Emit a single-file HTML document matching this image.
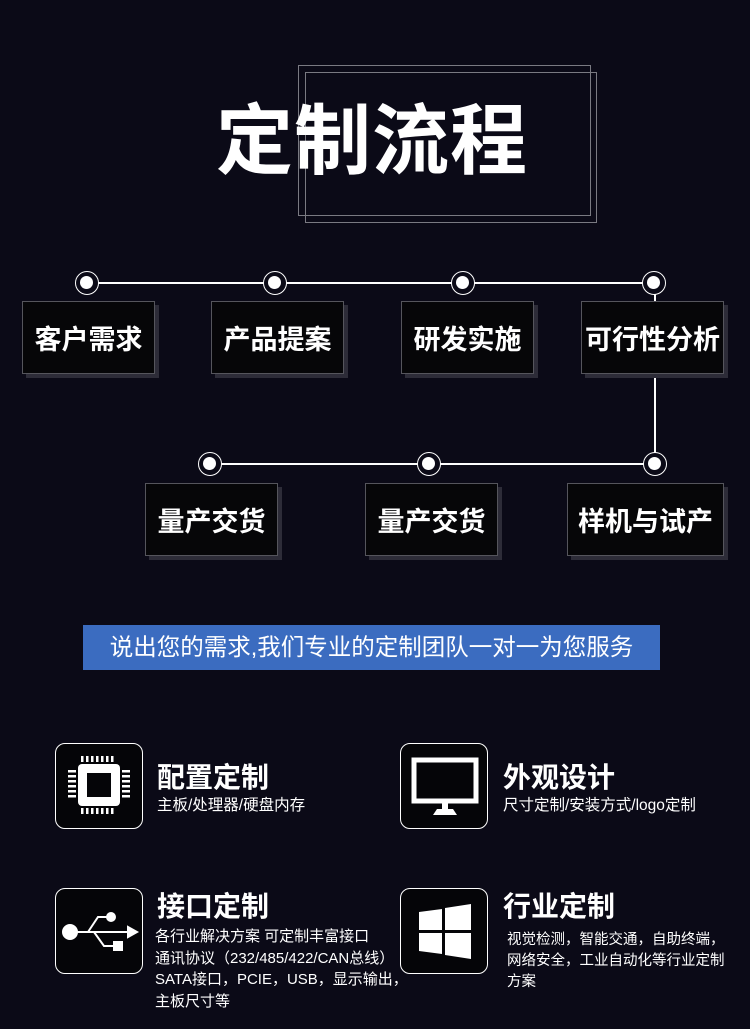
<!DOCTYPE html>
<html><head><meta charset="utf-8"><style>
*{margin:0;padding:0;box-sizing:border-box}
body{width:750px;height:1029px;background:#0b0a17;position:relative;overflow:hidden;font-family:"Liberation Sans","Noto Sans CJK SC",sans-serif;color:#fff}
.a{position:absolute}
.box{position:absolute;background:#060608;border:1.5px solid #55555c;box-shadow:4px 4px 0 #2d2c38;display:flex;align-items:center;justify-content:center;font-size:27px;font-weight:bold;color:#fff}
.ln{position:absolute;background:#fff}
.dot{position:absolute;width:24px;height:24px;border:1.5px solid #fff;border-radius:50%;background:#0b0a17}
.dot::after{content:"";position:absolute;left:4px;top:4px;width:13px;height:13px;background:#fff;border-radius:50%}
.ic{position:absolute;width:88px;height:86px;border:1.5px solid #fff;border-radius:10px;background:#050508}
.t{position:absolute;font-size:28px;font-weight:bold;line-height:32px}
.s{position:absolute;font-size:15.5px;line-height:21.5px}
</style></head><body>
<div class="a" style="left:298px;top:65px;width:293px;height:151px;border:1.5px solid #7a7a82"></div>
<div class="a" style="left:305px;top:72px;width:292px;height:151px;border:1.5px solid #7a7a82"></div>
<div class="a" style="left:216px;top:94px;font-size:77px;font-weight:bold;line-height:96px;letter-spacing:1px">定制流程</div>

<div class="ln" style="left:87px;top:282px;width:568px;height:1.5px"></div>
<div class="ln" style="left:654px;top:283px;width:1.5px;height:181px"></div>
<div class="ln" style="left:210px;top:463px;width:445px;height:1.5px"></div>

<div class="box" style="left:22px;top:301px;width:133px;height:73px">客户需求</div>
<div class="box" style="left:211px;top:301px;width:133px;height:73px">产品提案</div>
<div class="box" style="left:401px;top:301px;width:133px;height:73px">研发实施</div>
<div class="box" style="left:581px;top:301px;width:143px;height:73px">可行性分析</div>
<div class="box" style="left:145px;top:483px;width:133px;height:73px">量产交货</div>
<div class="box" style="left:365px;top:483px;width:133px;height:73px">量产交货</div>
<div class="box" style="left:567px;top:483px;width:157px;height:73px">样机与试产</div>

<div class="dot" style="left:75px;top:271px"></div>
<div class="dot" style="left:263px;top:271px"></div>
<div class="dot" style="left:451px;top:271px"></div>
<div class="dot" style="left:642px;top:271px"></div>
<div class="dot" style="left:198px;top:452px"></div>
<div class="dot" style="left:417px;top:452px"></div>
<div class="dot" style="left:643px;top:452px"></div>

<div class="a" style="left:83px;top:625px;width:577px;height:45px;background:#3b6cc0;font-size:23.5px;line-height:45px;text-align:center;color:#fff;white-space:nowrap">说出您的需求,我们专业的定制团队一对一为您服务</div>

<div class="ic" style="left:55px;top:743px">
<svg width="88" height="86" viewBox="0 0 88 86"><g fill="#fff">
<rect x="22" y="20" width="42" height="42" rx="4"/>
<rect x="31" y="29" width="24" height="24" fill="#050508"/>
<g><rect x="25" y="12" width="2.5" height="6"/><rect x="30" y="12" width="2.5" height="6"/><rect x="35" y="12" width="2.5" height="6"/><rect x="40" y="12" width="2.5" height="6"/><rect x="45" y="12" width="2.5" height="6"/><rect x="50" y="12" width="2.5" height="6"/><rect x="55" y="12" width="2.5" height="6"/></g>
<g transform="translate(0,52)"><rect x="25" y="12" width="2.5" height="6"/><rect x="30" y="12" width="2.5" height="6"/><rect x="35" y="12" width="2.5" height="6"/><rect x="40" y="12" width="2.5" height="6"/><rect x="45" y="12" width="2.5" height="6"/><rect x="50" y="12" width="2.5" height="6"/><rect x="55" y="12" width="2.5" height="6"/></g>
<rect x="12" y="26" width="8" height="2.5"/><rect x="12" y="31" width="8" height="2.5"/><rect x="12" y="36" width="8" height="2.5"/><rect x="12" y="41" width="8" height="2.5"/><rect x="12" y="46" width="8" height="2.5"/><rect x="12" y="51" width="8" height="2.5"/>
<rect x="66" y="26" width="8" height="2.5"/><rect x="66" y="31" width="8" height="2.5"/><rect x="66" y="36" width="8" height="2.5"/><rect x="66" y="41" width="8" height="2.5"/><rect x="66" y="46" width="8" height="2.5"/><rect x="66" y="51" width="8" height="2.5"/>
</g></svg></div>
<div class="t" style="left:157px;top:762px">配置定制</div>
<div class="s" style="left:157px;top:795px">主板/处理器/硬盘内存</div>

<div class="ic" style="left:400px;top:743px">
<svg width="88" height="86" viewBox="0 0 88 86"><g fill="#fff">
<rect x="13" y="16" width="62" height="41" fill="none" stroke="#fff" stroke-width="5"/>
<rect x="41" y="59" width="6" height="7"/><path d="M32 71 L56 71 L52 65 L36 65Z"/>
</g></svg></div>
<div class="t" style="left:503px;top:762px">外观设计</div>
<div class="s" style="left:503px;top:795px">尺寸定制/安装方式/logo定制</div>

<div class="ic" style="left:55px;top:888px">
<svg width="88" height="86" viewBox="0 0 88 86"><g fill="#fff" stroke="#fff" stroke-width="2">
<circle cx="14" cy="43" r="7"/>
<line x1="14" y1="43" x2="76" y2="43"/>
<polygon points="72,38 81,43 72,48"/>
<polyline points="32,43 42,28 51,28" fill="none"/><circle cx="55" cy="28" r="4"/>
<polyline points="38,43 48,57 59,57" fill="none"/><rect x="58" y="53" width="8" height="8"/>
</g></svg></div>
<div class="t" style="left:157px;top:891px">接口定制</div>
<div class="s" style="left:155px;top:926px;font-size:15px;white-space:nowrap">各行业解决方案 可定制丰富接口<br>通讯协议（232/485/422/CAN总线）<br>SATA接口，PCIE，USB，显示输出，<br>主板尺寸等</div>

<div class="ic" style="left:400px;top:888px">
<svg width="88" height="86" viewBox="0 0 88 86"><g fill="#fff">
<path d="M18 23 L41 20 L41 41 L18 41Z"/><path d="M44 19 L70 15 L70 41 L44 41Z"/>
<path d="M18 44 L41 44 L41 65 L18 62Z"/><path d="M44 44 L70 44 L70 70 L44 66Z"/>
</g></svg></div>
<div class="t" style="left:503px;top:891px">行业定制</div>
<div class="s" style="left:507px;top:930px;font-size:14.5px;line-height:21px;white-space:nowrap">视觉检测，智能交通，自助终端，<br>网络安全，工业自动化等行业定制<br>方案</div>
</body></html>
